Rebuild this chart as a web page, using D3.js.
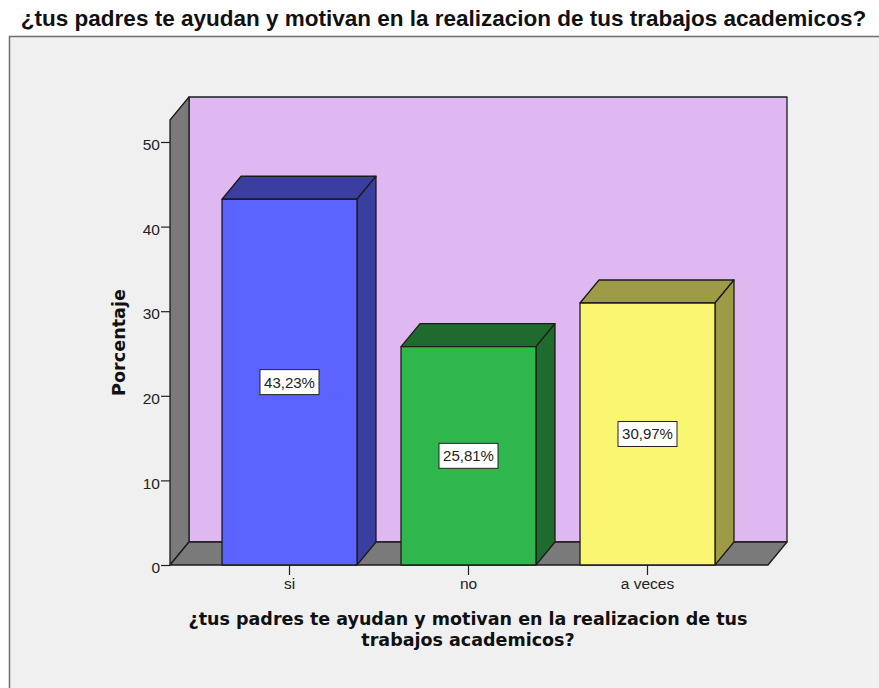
<!DOCTYPE html>
<html>
<head>
<meta charset="utf-8">
<script src="https://cdn.jsdelivr.net/npm/d3@7"></script>
<style>
    html, body { margin: 0; padding: 0; background: #fff; }
    svg { display: block; }
    .tick text { font-family: "Liberation Sans", Arial, sans-serif; font-size: 15.5px; fill: #222; }
</style>
</head>
<body>
<div class="chart"></div>
<script>
const titleText = "¿tus padres te ayudan y motivan en la realizacion de tus trabajos academicos?";
const xTitleLines = ["¿tus padres te ayudan y motivan en la realizacion de tus", "trabajos academicos?"];
const yTitle = "Porcentaje";

const categories = ["si", "no", "a veces"];
const percentages = [43.23, 25.81, 30.97];
const valueLabels = ["43,23%", "25,81%", "30,97%"];
const yTicks = [0, 10, 20, 30, 40, 50];

const frontColors = ["#5a62ff", "#2fb74e", "#fbf671"];
const shadeColors = ["#3a3e9e", "#1f6b2e", "#9e9b47"];

const width = 879, height = 688;
const depthX = 19, depthY = 23; // offset of the 3d back wall

const x = d3.scaleBand()
    .domain(categories)
    .range([200, 737])
    .paddingInner(0.246)
    .paddingOuter(0.123);

const y = d3.scaleLinear()
    .domain([0, 52.6])
    .range([565, 120]);

const svg = d3.select(".chart").append("svg")
    .attr("width", width)
    .attr("height", height);

const line = d3.line();

function poly(points, fill) {
    return svg.append("path")
        .attr("d", line(points) + "Z")
        .attr("fill", fill)
        .attr("stroke", "#1c1c1c")
        .attr("stroke-width", 1.3)
        .attr("stroke-linejoin", "round");
}

// title and panel
svg.append("text")
    .attr("x", 443.5)
    .attr("y", 26)
    .attr("text-anchor", "middle")
    .style("font-family", "'Liberation Sans', Arial, sans-serif")
    .style("font-weight", "bold")
    .style("font-size", "22.5px")
    .attr("fill", "#111")
    .text(titleText);

svg.append("rect")
    .attr("x", 9.5)
    .attr("y", 36.5)
    .attr("width", width)
    .attr("height", height)
    .attr("fill", "#f0f0f0")
    .attr("stroke", "#6e6e6e")
    .attr("stroke-width", 1.5);

// walls and floor
const left = 170, right = 768;
const base = y(0), top3d = y(y.domain()[1]);

poly([[left + depthX, top3d - depthY], [right + depthX, top3d - depthY], [right + depthX, base - depthY], [left + depthX, base - depthY]], "#dfb8f2");
poly([[left, top3d], [left + depthX, top3d - depthY], [left + depthX, base - depthY], [left, base]], "#7a7a7a");
poly([[left, base], [left + depthX, base - depthY], [right + depthX, base - depthY], [right, base]], "#7a7a7a");

// axes
const yAxis = svg.append("g")
    .attr("transform", `translate(${left},0)`)
    .call(d3.axisLeft(y).tickValues(yTicks).tickSize(9).tickPadding(1));
yAxis.select(".domain").remove();
yAxis.selectAll("line").attr("stroke", "#222").attr("stroke-width", 1.2);
yAxis.selectAll("text").attr("dy", "0.5em");

const xAxis = svg.append("g")
    .attr("transform", `translate(0,${base})`)
    .call(d3.axisBottom(x).tickSize(10).tickPadding(3));
xAxis.select(".domain").remove();
xAxis.selectAll("line").attr("stroke", "#222").attr("stroke-width", 1.2);

// bars
categories.forEach((cat, i) => {
    const x0 = x(cat), x1 = x0 + x.bandwidth();
    const yTop = y(percentages[i]);
    poly([[x0, yTop], [x0 + depthX, yTop - depthY], [x1 + depthX, yTop - depthY], [x1, yTop]], shadeColors[i]);
    poly([[x1, yTop], [x1 + depthX, yTop - depthY], [x1 + depthX, base - depthY], [x1, base]], shadeColors[i]);
    poly([[x0, yTop], [x1, yTop], [x1, base], [x0, base]], frontColors[i]);

    // value box in the middle of the bar
    const cx = x0 + x.bandwidth() / 2;
    const cy = y(percentages[i] / 2);
    svg.append("rect")
        .attr("x", cx - 29.5)
        .attr("y", cy - 12.5)
        .attr("width", 59)
        .attr("height", 25)
        .attr("fill", "#fff")
        .attr("stroke", "#222")
        .attr("stroke-width", 1);
    svg.append("text")
        .attr("x", cx)
        .attr("y", cy + 5.5)
        .attr("text-anchor", "middle")
        .style("font-family", "'Liberation Sans', Arial, sans-serif")
        .style("font-size", "15px")
        .attr("fill", "#222")
        .text(valueLabels[i]);
});

// axis titles
svg.append("text")
    .attr("transform", "translate(125,342.5) rotate(-90)")
    .attr("text-anchor", "middle")
    .style("font-family", "'DejaVu Sans', Verdana, sans-serif")
    .style("font-weight", "bold")
    .style("font-size", "17.6px")
    .attr("fill", "#111")
    .text(yTitle);

svg.selectAll(".xTitle")
    .data(xTitleLines)
    .enter()
    .append("text")
    .attr("class", "xTitle")
    .attr("x", 468)
    .attr("y", (d, i) => 625 + i * 21)
    .attr("text-anchor", "middle")
    .style("font-family", "'DejaVu Sans', Verdana, sans-serif")
    .style("font-weight", "bold")
    .style("font-size", "17.5px")
    .attr("fill", "#111")
    .text(d => d);
</script>
</body>
</html>
